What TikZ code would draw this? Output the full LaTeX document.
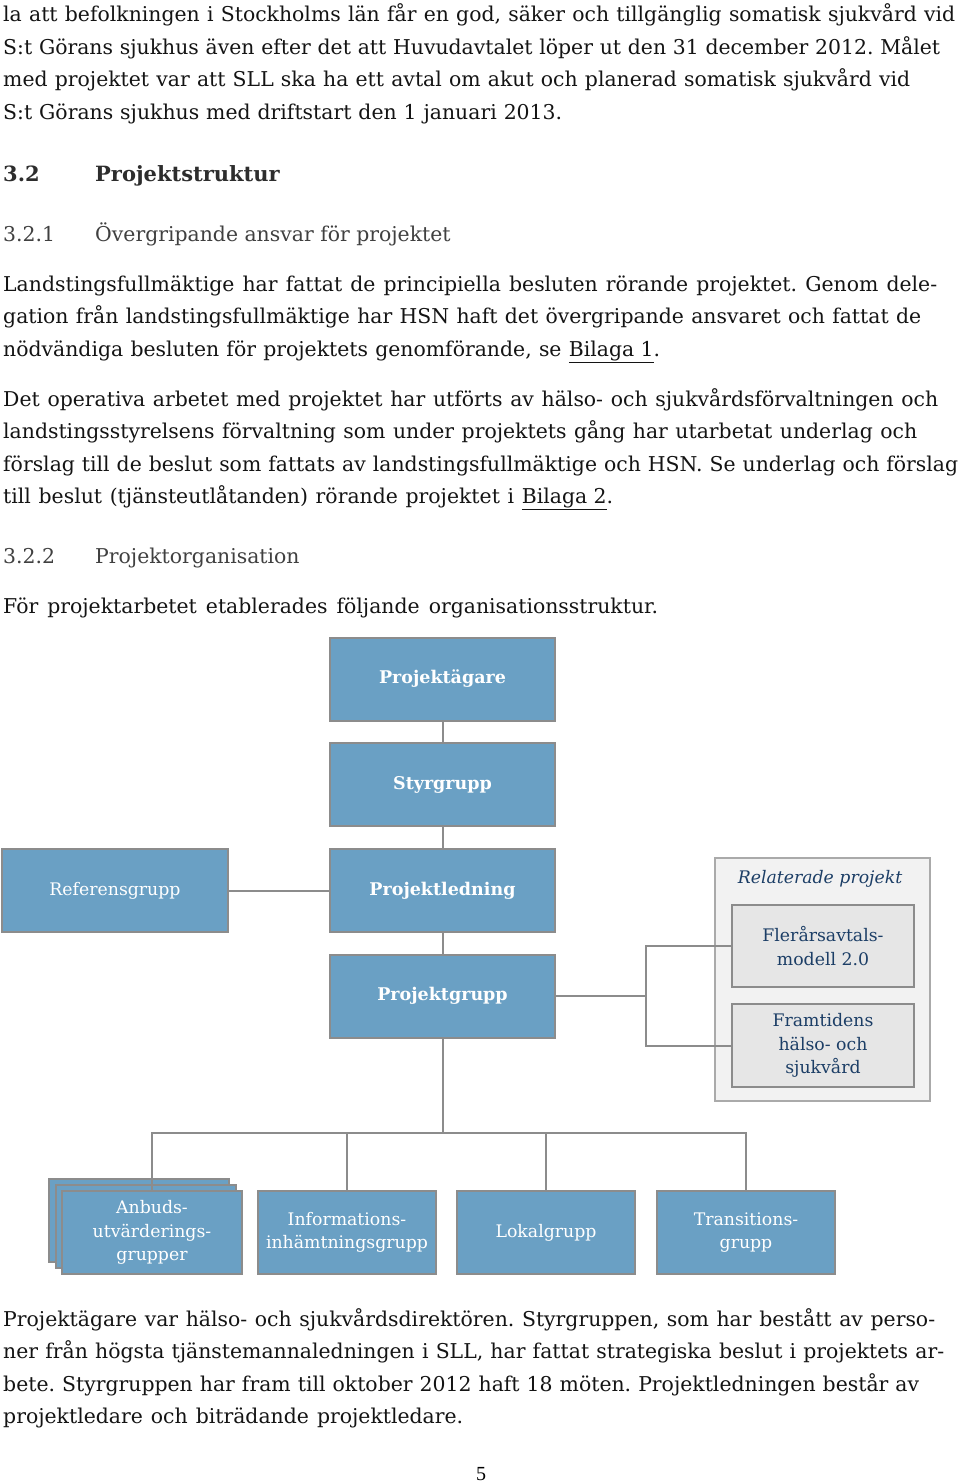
\documentclass[tikz,border=0pt]{standalone}
\usepackage{fontspec}
\setmainfont{DejaVu Serif}
\newfontfamily\pagenofont{Liberation Serif}
\newlength{\du}
\setlength{\du}{1pt}
\definecolor{bodytext}{RGB}{20,20,20}
\definecolor{headtext}{RGB}{45,45,45}
\definecolor{subhead}{RGB}{64,64,64}
\definecolor{boxfill}{RGB}{106,160,196}
\definecolor{boxline}{RGB}{140,140,140}
\definecolor{relfill}{RGB}{242,242,242}
\definecolor{relline}{RGB}{170,170,170}
\definecolor{subfill}{RGB}{230,230,230}
\definecolor{reltext}{RGB}{28,62,102}
\definecolor{conline}{RGB}{140,140,140}
\tikzset{
  textline/.style={anchor=base west,inner sep=0pt,text=bodytext,font=\fontsize{20.4}{24}\selectfont},
  headline/.style={anchor=base west,inner sep=0pt,text=headtext,font=\fontsize{21}{24}\selectfont\bfseries},
  subline/.style={anchor=base west,inner sep=0pt,text=subhead,font=\fontsize{20.4}{24}\selectfont},
  orgbox/.style={draw=boxline,line width=2\du,fill=boxfill,text=white,align=center,inner sep=0pt,
    minimum width=225\du,minimum height=83\du,font=\fontsize{17.3}{23.5}\selectfont},
  orgbold/.style={font=\fontsize{17.5}{23.5}\selectfont\bfseries},
  lowbox/.style={orgbox,minimum width=180\du},
  relbox/.style={draw=relline,line width=2\du,fill=relfill,minimum width=215\du,minimum height=243\du},
  subbox/.style={draw=boxline,line width=2\du,fill=subfill,text=reltext,align=center,inner sep=0pt,
    minimum width=182\du,minimum height=82\du,font=\fontsize{17.3}{23.5}\selectfont},
  conn/.style={draw=conline,line width=2\du}
}
\frenchspacing
\begin{document}
\begin{tikzpicture}
\pgftransformxscale{1.000000}
\pgftransformyscale{-1.000000}
\useasboundingbox[fill=white] (0\du,0\du) rectangle (960\du,1483\du);
% text above the chart
\node[textline] (intro1) at (3\du,21.5\du){\makebox[952\du][s]{la att befolkningen i Stockholms län får en god, säker och tillgänglig somatisk sjukvård vid}};
\node[textline] (intro2) at (3\du,54\du){\makebox[937\du][s]{S:t Görans sjukhus även efter det att Huvudavtalet löper ut den 31 december 2012. Målet}};
\node[textline] (intro3) at (3\du,86.5\du){\makebox[907\du][s]{med projektet var att SLL ska ha ett avtal om akut och planerad somatisk sjukvård vid}};
\node[textline] (intro4) at (3\du,119\du){\makebox[559\du][s]{S:t Görans sjukhus med driftstart den 1 januari 2013.}};
\node[headline] (h32num) at (3\du,181\du){3.2};
\node[headline] (h32) at (95\du,181\du){Projektstruktur};
\node[subline] (h321num) at (3\du,241\du){3.2.1};
\node[subline] (h321) at (95\du,241\du){Övergripande ansvar för projektet};
\node[textline] (ansv1) at (3\du,291\du){\makebox[934\du][s]{Landstingsfullmäktige har fattat de principiella besluten rörande projektet. Genom dele-}};
\node[textline] (ansv2) at (3\du,323.5\du){\makebox[918\du][s]{gation från landstingsfullmäktige har HSN haft det övergripande ansvaret och fattat de}};
\node[textline] (ansv3) at (3\du,356\du){\makebox[657\du][s]{nödvändiga besluten för projektets genomförande, se \underline{Bilaga 1}.}};
\node[textline] (oper1) at (3\du,406\du){\makebox[935\du][s]{Det operativa arbetet med projektet har utförts av hälso- och sjukvårdsförvaltningen och}};
\node[textline] (oper2) at (3\du,438.5\du){\makebox[914\du][s]{landstingsstyrelsens förvaltning som under projektets gång har utarbetat underlag och}};
\node[textline] (oper3) at (3\du,471\du){\makebox[955\du][s]{förslag till de beslut som fattats av landstingsfullmäktige och HSN. Se underlag och förslag}};
\node[textline] (oper4) at (3\du,503.5\du){\makebox[610\du][s]{till beslut (tjänsteutlåtanden) rörande projektet i \underline{Bilaga 2}.}};
\node[subline] (h322num) at (3\du,563\du){3.2.2};
\node[subline] (h322) at (95\du,563\du){Projektorganisation};
\node[textline] (orgintro) at (3\du,613\du){\makebox[655\du][s]{För projektarbetet etablerades följande organisationsstruktur.}};
% chart boxes
\node[orgbox,orgbold] (ptag) at (442.5\du,679\du){Projektägare};
\node[orgbox,orgbold] (styr) at (442.5\du,784.5\du){Styrgrupp};
\node[orgbox,orgbold] (pled) at (442.5\du,890.5\du){Projektledning};
\node[orgbox,minimum width=226\du] (ref) at (115\du,890.5\du){Referensgrupp};
\node[orgbox,orgbold] (pgrp) at (442.5\du,996\du){Projektgrupp};
\node[relbox] (rel) at (822.5\du,979.5\du){};
\node[inner sep=0pt,text=reltext,font=\fontsize{17.3}{20}\selectfont\itshape] (reltitle) at (820\du,879\du){Relaterade projekt};
\node[subbox] (fler) at (823\du,946\du){Flerårsavtals-\\modell 2.0};
\node[subbox,minimum height=83\du] (fram) at (823\du,1045.5\du){Framtidens\\hälso- och\\sjukvård};
\node[lowbox] (anbudC) at (139\du,1220.5\du){};
\node[lowbox] (anbudB) at (146\du,1226.5\du){};
\node[lowbox] (anbud) at (152\du,1232.5\du){Anbuds-\\utvärderings-\\grupper};
\node[lowbox,minimum width=178\du] (info) at (347\du,1232.5\du){Informations-\\inhämtningsgrupp};
\node[lowbox,minimum width=178\du] (lokal) at (546\du,1232.5\du){Lokalgrupp};
\node[lowbox,minimum width=178\du] (trans) at (746\du,1232.5\du){Transitions-\\grupp};
% connectors
\coordinate (bus) at (442.5\du,1133\du);
\coordinate (rbus) at (646\du,996\du);
\draw[conn] (ptag) -- (styr);
\draw[conn] (styr) -- (pled);
\draw[conn] (pled) -- (pgrp);
\draw[conn] (ref) -- (pled);
\draw[conn] (pgrp) -- (bus);
\draw[conn] (anbud.north) |- (bus) -| (trans.north);
\draw[conn] (info.north) -- (info.north |- bus);
\draw[conn] (lokal.north) -- (lokal.north |- bus);
\draw[conn] (pgrp) -- (rbus);
\draw[conn] (fler.west) -| (rbus) |- (fram.west);
% text below the chart
\node[textline] (pres1) at (3\du,1326\du){\makebox[932\du][s]{Projektägare var hälso- och sjukvårdsdirektören. Styrgruppen, som har bestått av perso-}};
\node[textline] (pres2) at (3\du,1358.5\du){\makebox[941\du][s]{ner från högsta tjänstemannaledningen i SLL, har fattat strategiska beslut i projektets ar-}};
\node[textline] (pres3) at (3\du,1391\du){\makebox[916\du][s]{bete. Styrgruppen har fram till oktober 2012 haft 18 möten. Projektledningen består av}};
\node[textline] (pres4) at (3\du,1423.5\du){\makebox[460\du][s]{projektledare och biträdande projektledare.}};
\node[anchor=base,inner sep=0pt,font=\pagenofont\fontsize{20}{24}\selectfont] (pageno) at (481\du,1480\du){5};
\end{tikzpicture}
\end{document}
